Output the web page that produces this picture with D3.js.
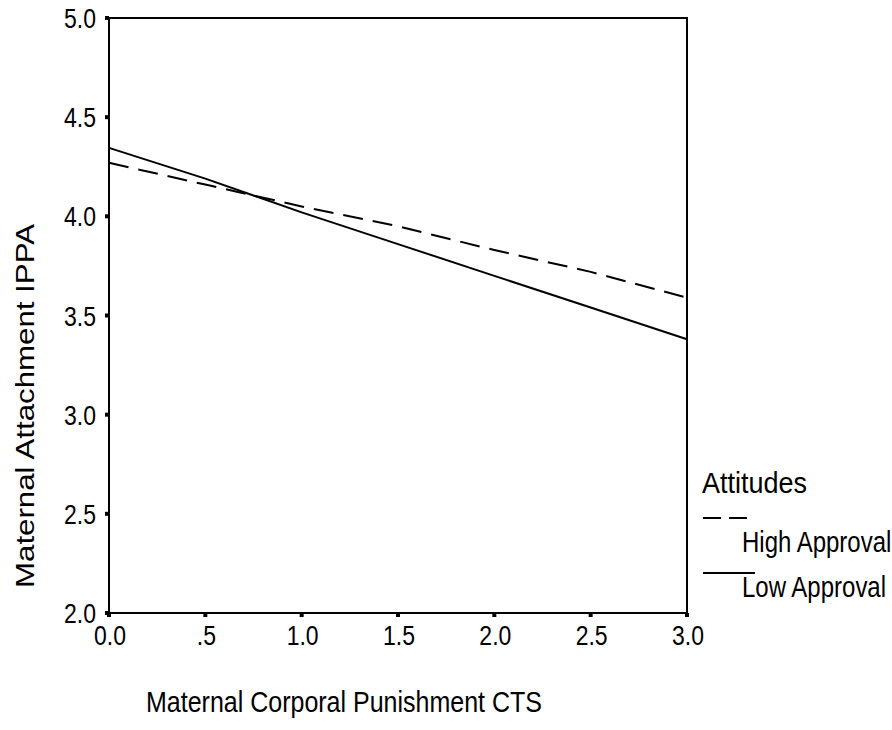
<!DOCTYPE html>
<html>
<head>
<meta charset="utf-8">
<script src="https://cdn.jsdelivr.net/npm/d3@7"></script>
<style>
  body { margin: 0; background: #fff; }
  svg { display: block; font-family: "Liberation Sans", Arial, sans-serif; }
</style>
</head>
<body>
<svg id="chart" width="892" height="730"></svg>
<script>
// data
const punishment = [0, 0.5, 1.0, 1.5, 2.0, 2.5, 3.0];
const highApproval = [4.27, 4.16, 4.05, 3.95, 3.83, 3.72, 3.59];
const lowApproval = [4.345, 4.19, 4.02, 3.86, 3.70, 3.54, 3.38];
const xTicks = [0, 0.5, 1.0, 1.5, 2.0, 2.5, 3.0];
const xTickLabels = ['0.0', '.5', '1.0', '1.5', '2.0', '2.5', '3.0'];
const yTicks = [2.0, 2.5, 3.0, 3.5, 4.0, 4.5, 5.0];
const seriesNames = ['High Approval', 'Low Approval'];

// the scan is a bit taller than wide, so text gets stretched vertically
const stretch = 1.2;
const place = (x, y, s) => `translate(${x},${y}) scale(1,${s || stretch})`;

function drawChart() {
    const svg = d3.select('#chart');
    const plot = { left: 109, right: 687, top: 18, bottom: 613 };

    const xScale = d3.scaleLinear()
            .domain([0, 3])
            .range([plot.left, plot.right]);
    const yScale = d3.scaleLinear()
            .domain([2, 5])
            .range([plot.bottom, plot.top]);

    // frame round the plot
    svg.append('rect')
            .attr('x', plot.left)
            .attr('y', plot.top)
            .attr('width', plot.right - plot.left)
            .attr('height', plot.bottom - plot.top)
            .style('fill', 'none')
            .style('stroke', '#000')
            .style('stroke-width', 2);

    // y ticks: little squares + labels
    svg.append('g').selectAll('rect')
            .data(yTicks)
            .enter()
            .append('rect')
            .attr('x', plot.left - 4)
            .attr('y', d => yScale(d) - 2)
            .attr('width', 4)
            .attr('height', 4)
            .style('fill', '#000');
    svg.append('g').selectAll('text')
            .data(yTicks)
            .enter()
            .append('text')
            .attr('transform', d => place(96, yScale(d) + 10))
            .style('text-anchor', 'end')
            .style('font-size', '23px')
            .text(d => d.toFixed(1));

    // x ticks
    svg.append('g').selectAll('rect')
            .data(xTicks)
            .enter()
            .append('rect')
            .attr('x', d => xScale(d) - 2)
            .attr('y', plot.bottom)
            .attr('width', 4)
            .attr('height', 4)
            .style('fill', '#000');
    svg.append('g').selectAll('text')
            .data(xTicks)
            .enter()
            .append('text')
            .attr('transform', d => place(xScale(d) + 1, 645))
            .style('text-anchor', 'middle')
            .style('font-size', '23px')
            .text((d, i) => xTickLabels[i]);

    // lines
    const line = d3.line()
            .x((d, i) => xScale(punishment[i]))
            .y(d => yScale(d));

    svg.append('path')
            .datum(highApproval)
            .attr('d', line)
            .style('fill', 'none')
            .style('stroke', '#000')
            .style('stroke-width', 2)
            .style('stroke-dasharray', '20,10');
    svg.append('path')
            .datum(lowApproval)
            .attr('d', line)
            .style('fill', 'none')
            .style('stroke', '#000')
            .style('stroke-width', 2);

    // axis titles
    svg.append('text')
            .attr('transform', place(146, 712))
            .style('font-size', '25px')
            .text('Maternal Corporal Punishment CTS');
    svg.append('text')
            .attr('transform', 'translate(34,406) scale(1,1.25) rotate(-90)')
            .style('text-anchor', 'middle')
            .style('font-size', '25px')
            .text('Maternal Attachment IPPA');

    // legend
    const legend = svg.append('g');
    legend.append('text')
            .attr('transform', place(702, 493, 1.1))
            .style('font-size', '27px')
            .text('Attitudes');
    legend.selectAll('line')
            .data(seriesNames)
            .enter()
            .append('line')
            .attr('x1', 703)
            .attr('x2', 755)
            .attr('y1', (d, i) => 518 + i * 55)
            .attr('y2', (d, i) => 518 + i * 55)
            .style('stroke', '#000')
            .style('stroke-width', 2)
            .style('stroke-dasharray', (d, i) => i === 0 ? '18,8' : null);
    legend.selectAll('text.item')
            .data(seriesNames)
            .enter()
            .append('text')
            .attr('class', 'item')
            .attr('transform', (d, i) => place(742, 552 + i * 45))
            .style('font-size', '24px')
            .text(d => d);
}

drawChart();
</script>
</body>
</html>
